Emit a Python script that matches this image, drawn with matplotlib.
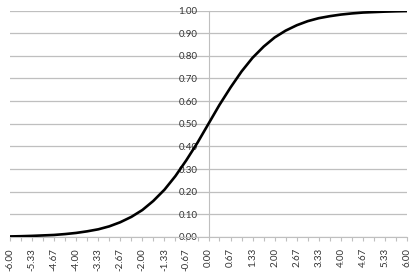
import numpy as np
import matplotlib.pyplot as plt

# Значения (шаг 1/3)
x = [-6.00, -5.67, -5.33, -5.00, -4.67, -4.33, -4.00, -3.67, -3.33, -3.00,
     -2.67, -2.33, -2.00, -1.67, -1.33, -1.00, -0.67, -0.33, 0.00,
     0.33, 0.67, 1.00, 1.33, 1.67, 2.00, 2.33, 2.67, 3.00, 3.33,
     3.67, 4.00, 4.33, 4.67, 5.00, 5.33, 5.67, 6.00]
y = [0.0025, 0.0035, 0.005, 0.007, 0.009, 0.013, 0.018, 0.025, 0.034, 0.047,
     0.065, 0.089, 0.119, 0.159, 0.209, 0.269, 0.339, 0.417, 0.500,
     0.583, 0.661, 0.731, 0.791, 0.841, 0.881, 0.911, 0.935, 0.953, 0.966,
     0.975, 0.982, 0.987, 0.991, 0.993, 0.995, 0.9965, 0.9975]
x_labels = ["-6.00", "-5.33", "-4.67", "-4.00", "-3.33", "-2.67", "-2.00", "-1.33", "-0.67",
            "0.00", "0.67", "1.33", "2.00", "2.67", "3.33", "4.00", "4.67", "5.33", "6.00"]
y_ticks = [0.0, 0.1, 0.2, 0.3, 0.4, 0.5, 0.6, 0.7, 0.8, 0.9, 1.0]

grey = '#bfbfbf'
plt.rcParams['font.family'] = ['Lato', 'DejaVu Sans']

fig = plt.figure(figsize=(4.16, 2.74), dpi=100)
ax = fig.add_axes([10 / 416, 37 / 274, 397 / 416, 226.5 / 274])

ax.plot(x, y, '-', color='black', lw=1.9, solid_capstyle='butt', zorder=3)

ax.set_xlim(-6, 6)
ax.set_ylim(0, 1)

ax.set_xticks(x[::2])
ax.set_xticklabels(x_labels, rotation=90)
ax.set_xticks(x, minor=True)
ax.tick_params(axis='x', which='both', direction='out', length=3, width=0.8,
               color=grey, pad=5, labelsize=7, labelcolor='#333333')

ax.set_yticks(y_ticks)
ax.set_yticklabels(['%.2f' % v for v in y_ticks])
ax.tick_params(axis='y', length=0, pad=8, labelsize=7, labelcolor='#333333')
ax.yaxis.grid(True, color=grey, lw=0.9)
ax.set_axisbelow(True)

ax.spines['left'].set_position(('data', 0))
ax.spines['left'].set_color(grey)
ax.spines['bottom'].set_color(grey)
ax.spines['right'].set_visible(False)
ax.spines['top'].set_visible(False)

plt.savefig('out.png', dpi=100)
